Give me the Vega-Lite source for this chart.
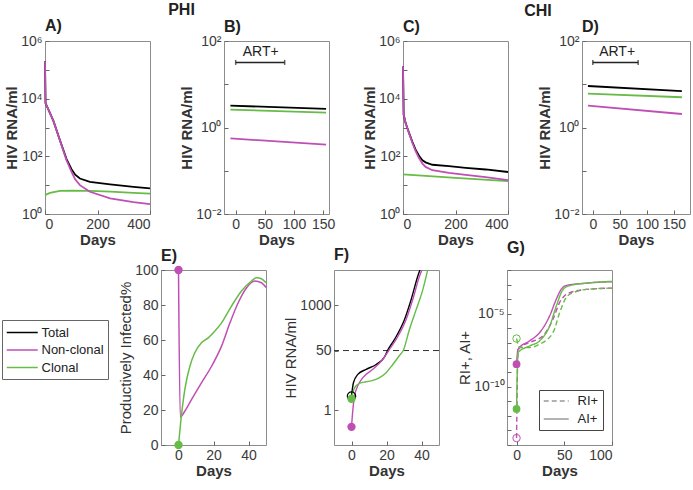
{
  "$schema": "https://vega.github.io/schema/vega-lite/v6.json",
  "background": "white",
  "padding": {"left": 1, "top": 1, "right": 0, "bottom": 0},
  "config": {
    "font": "Liberation Sans",
    "view": {"stroke": "#8c8c8c", "strokeWidth": 1},
    "axis": {"domain": false, "grid": false, "tickSize": -4, "tickColor": "#666", "labelFont": "Liberation Sans", "labelFontSize": 14, "labelColor": "#3a3a3a", "labelPadding": 7, "labelOverlap": false, "labelBound": false, "titleFont": "Liberation Sans", "titleFontSize": 15, "titleFontWeight": "bold", "titleColor": "#333", "titlePadding": 1},
    "title": {"anchor": "start", "frame": "group", "fontSize": 16, "fontWeight": "bold", "font": "Liberation Sans", "color": "#222", "offset": 7}
  },
  "datasets": {
    "A": [
      {"day": 0, "v": 200000, "s": "Total"}, {"day": 2, "v": 7000, "s": "Total"}, {"day": 32, "v": 1700, "s": "Total"}, {"day": 57, "v": 360, "s": "Total"}, {"day": 82, "v": 80, "s": "Total"}, {"day": 101, "v": 36, "s": "Total"}, {"day": 115, "v": 23, "s": "Total"}, {"day": 133, "v": 17, "s": "Total"}, {"day": 171, "v": 13, "s": "Total"}, {"day": 248, "v": 10.7, "s": "Total"}, {"day": 337, "v": 8.7, "s": "Total"}, {"day": 400, "v": 7.7, "s": "Total"},
      {"day": 0, "v": 4.5, "s": "Clonal"}, {"day": 19, "v": 5.4, "s": "Clonal"}, {"day": 57, "v": 6.3, "s": "Clonal"}, {"day": 100, "v": 6.4, "s": "Clonal"}, {"day": 171, "v": 6.3, "s": "Clonal"}, {"day": 250, "v": 6.0, "s": "Clonal"}, {"day": 337, "v": 5.4, "s": "Clonal"}, {"day": 400, "v": 5.1, "s": "Clonal"},
      {"day": 0, "v": 200000, "s": "Non-clonal"}, {"day": 2, "v": 7000, "s": "Non-clonal"}, {"day": 32, "v": 1700, "s": "Non-clonal"}, {"day": 57, "v": 355, "s": "Non-clonal"}, {"day": 82, "v": 73, "s": "Non-clonal"}, {"day": 101, "v": 29, "s": "Non-clonal"}, {"day": 115, "v": 16, "s": "Non-clonal"}, {"day": 133, "v": 10, "s": "Non-clonal"}, {"day": 171, "v": 5.9, "s": "Non-clonal"}, {"day": 248, "v": 3.5, "s": "Non-clonal"}, {"day": 337, "v": 2.6, "s": "Non-clonal"}, {"day": 400, "v": 2.2, "s": "Non-clonal"}
    ],
    "B": [
      {"day": -9, "v": 3.2, "s": "Total"}, {"day": 155, "v": 2.7, "s": "Total"},
      {"day": -9, "v": 2.6, "s": "Clonal"}, {"day": 155, "v": 2.2, "s": "Clonal"},
      {"day": -9, "v": 0.56, "s": "Non-clonal"}, {"day": 155, "v": 0.4, "s": "Non-clonal"}
    ],
    "C": [
      {"day": 0, "v": 130000, "s": "Total"}, {"day": 2.5, "v": 2820, "s": "Total"}, {"day": 10, "v": 1420, "s": "Total"}, {"day": 23, "v": 650, "s": "Total"}, {"day": 36, "v": 310, "s": "Total"}, {"day": 48, "v": 170, "s": "Total"}, {"day": 61, "v": 105, "s": "Total"}, {"day": 74, "v": 73, "s": "Total"}, {"day": 86, "v": 62, "s": "Total"}, {"day": 112, "v": 51, "s": "Total"}, {"day": 175, "v": 45.6, "s": "Total"}, {"day": 239, "v": 40, "s": "Total"}, {"day": 315, "v": 35, "s": "Total"}, {"day": 400, "v": 28.6, "s": "Total"},
      {"day": 0, "v": 23.5, "s": "Clonal"}, {"day": 200, "v": 18, "s": "Clonal"}, {"day": 400, "v": 13.7, "s": "Clonal"},
      {"day": 0, "v": 130000, "s": "Non-clonal"}, {"day": 2.5, "v": 2800, "s": "Non-clonal"}, {"day": 10, "v": 1400, "s": "Non-clonal"}, {"day": 23, "v": 630, "s": "Non-clonal"}, {"day": 36, "v": 290, "s": "Non-clonal"}, {"day": 48, "v": 150, "s": "Non-clonal"}, {"day": 61, "v": 87, "s": "Non-clonal"}, {"day": 74, "v": 56, "s": "Non-clonal"}, {"day": 86, "v": 43, "s": "Non-clonal"}, {"day": 112, "v": 33, "s": "Non-clonal"}, {"day": 175, "v": 26.7, "s": "Non-clonal"}, {"day": 239, "v": 22.7, "s": "Non-clonal"}, {"day": 315, "v": 19, "s": "Non-clonal"}, {"day": 400, "v": 14.9, "s": "Non-clonal"}
    ],
    "D": [
      {"day": -9, "v": 9.1, "s": "Total"}, {"day": 165, "v": 6.9, "s": "Total"},
      {"day": -9, "v": 6.1, "s": "Clonal"}, {"day": 165, "v": 5.0, "s": "Clonal"},
      {"day": -9, "v": 3.2, "s": "Non-clonal"}, {"day": 165, "v": 2.05, "s": "Non-clonal"}
    ],
    "ART": [{"start": 0, "end": 84, "level": 32}],
    "E": [
      {"day": 0, "v": 100, "s": "Non-clonal"}, {"day": 1, "v": 16, "s": "Non-clonal"}, {"day": 3.6, "v": 19.3, "s": "Non-clonal"}, {"day": 7.4, "v": 25.9, "s": "Non-clonal"}, {"day": 13.1, "v": 35.5, "s": "Non-clonal"}, {"day": 18.9, "v": 45, "s": "Non-clonal"}, {"day": 24.6, "v": 56.5, "s": "Non-clonal"}, {"day": 29.4, "v": 69.8, "s": "Non-clonal"}, {"day": 34.1, "v": 81.3, "s": "Non-clonal"}, {"day": 38.9, "v": 89.9, "s": "Non-clonal"}, {"day": 43.6, "v": 93.7, "s": "Non-clonal"}, {"day": 47.4, "v": 92.7, "s": "Non-clonal"}, {"day": 50, "v": 90, "s": "Non-clonal"},
      {"day": 0, "v": 0, "s": "Clonal"}, {"day": 1.4, "v": 14.5, "s": "Clonal"}, {"day": 3.6, "v": 31.7, "s": "Clonal"}, {"day": 6.5, "v": 45, "s": "Clonal"}, {"day": 9.3, "v": 52.7, "s": "Clonal"}, {"day": 13.1, "v": 58.4, "s": "Clonal"}, {"day": 17, "v": 61.2, "s": "Clonal"}, {"day": 20.8, "v": 65.1, "s": "Clonal"}, {"day": 24.6, "v": 69.8, "s": "Clonal"}, {"day": 30.3, "v": 79.4, "s": "Clonal"}, {"day": 36, "v": 88, "s": "Clonal"}, {"day": 41.7, "v": 93.7, "s": "Clonal"}, {"day": 44.6, "v": 95.6, "s": "Clonal"}, {"day": 47.4, "v": 95, "s": "Clonal"}, {"day": 50, "v": 92.7, "s": "Clonal"}
    ],
    "Ep": [{"day": 0, "v": 100, "s": "Non-clonal"}, {"day": 0, "v": 0, "s": "Clonal"}],
    "F": [
      {"day": 0, "v": 2.5, "s": "Total"}, {"day": 1.1, "v": 6, "s": "Total"}, {"day": 3.6, "v": 10.4, "s": "Total"}, {"day": 8.4, "v": 14.5, "s": "Total"}, {"day": 14.1, "v": 20, "s": "Total"}, {"day": 18.9, "v": 33, "s": "Total"}, {"day": 20.8, "v": 52, "s": "Total"}, {"day": 24.6, "v": 104, "s": "Total"}, {"day": 30.3, "v": 387, "s": "Total"}, {"day": 34.1, "v": 1440, "s": "Total"}, {"day": 37.9, "v": 6700, "s": "Total"}, {"day": 39.2, "v": 10400, "s": "Total"},
      {"day": 0, "v": 0.33, "s": "Non-clonal"}, {"day": 0.8, "v": 1.04, "s": "Non-clonal"}, {"day": 1.7, "v": 2.5, "s": "Non-clonal"}, {"day": 3.6, "v": 4.9, "s": "Non-clonal"}, {"day": 6.5, "v": 8.4, "s": "Non-clonal"}, {"day": 12.2, "v": 14.5, "s": "Non-clonal"}, {"day": 17.9, "v": 28, "s": "Non-clonal"}, {"day": 21.7, "v": 54, "s": "Non-clonal"}, {"day": 25.5, "v": 104, "s": "Non-clonal"}, {"day": 31.2, "v": 387, "s": "Non-clonal"}, {"day": 35, "v": 1440, "s": "Non-clonal"}, {"day": 38.9, "v": 6700, "s": "Non-clonal"}, {"day": 40.4, "v": 10400, "s": "Non-clonal"},
      {"day": 0, "v": 2.1, "s": "Clonal"}, {"day": 1.7, "v": 4.3, "s": "Clonal"}, {"day": 4.6, "v": 5.8, "s": "Clonal"}, {"day": 8.4, "v": 6.4, "s": "Clonal"}, {"day": 12.2, "v": 7, "s": "Clonal"}, {"day": 16, "v": 8.4, "s": "Clonal"}, {"day": 19.8, "v": 11.6, "s": "Clonal"}, {"day": 23.6, "v": 20, "s": "Clonal"}, {"day": 27.4, "v": 36, "s": "Clonal"}, {"day": 29.7, "v": 52, "s": "Clonal"}, {"day": 33.1, "v": 200, "s": "Clonal"}, {"day": 37, "v": 750, "s": "Clonal"}, {"day": 40.8, "v": 2800, "s": "Clonal"}, {"day": 43.6, "v": 10400, "s": "Clonal"}
    ],
    "Fp": [{"day": 0, "v": 0.33, "s": "Non-clonal"}, {"day": 0, "v": 2.1, "s": "Clonal"}],
    "Fo": [{"day": 0, "v": 2.5, "s": "Total"}],
    "G": [
      {"day": 0, "v": 3e-14, "s": "Non-clonal", "t": "RI+"}, {"day": 1.6, "v": 3e-8, "s": "Non-clonal", "t": "RI+"}, {"day": 3.3, "v": 4.9e-8, "s": "Non-clonal", "t": "RI+"}, {"day": 13.8, "v": 1.07e-7, "s": "Non-clonal", "t": "RI+"}, {"day": 27.8, "v": 3.1e-7, "s": "Non-clonal", "t": "RI+"}, {"day": 38.3, "v": 4.4e-6, "s": "Non-clonal", "t": "RI+"}, {"day": 45.3, "v": 6.2e-5, "s": "Non-clonal", "t": "RI+"}, {"day": 50.6, "v": 1.78e-4, "s": "Non-clonal", "t": "RI+"}, {"day": 55.8, "v": 2.75e-4, "s": "Non-clonal", "t": "RI+"}, {"day": 73.3, "v": 4.7e-4, "s": "Non-clonal", "t": "RI+"}, {"day": 100, "v": 5.75e-4, "s": "Non-clonal", "t": "RI+"},
      {"day": 0, "v": 3.5e-9, "s": "Non-clonal", "t": "AI+"}, {"day": 1.6, "v": 3.7e-8, "s": "Non-clonal", "t": "AI+"}, {"day": 13.8, "v": 1.4e-7, "s": "Non-clonal", "t": "AI+"}, {"day": 24.3, "v": 5.2e-7, "s": "Non-clonal", "t": "AI+"}, {"day": 34.8, "v": 7.4e-6, "s": "Non-clonal", "t": "AI+"}, {"day": 41.8, "v": 1.05e-4, "s": "Non-clonal", "t": "AI+"}, {"day": 47.1, "v": 5.1e-4, "s": "Non-clonal", "t": "AI+"}, {"day": 52.3, "v": 8.7e-4, "s": "Non-clonal", "t": "AI+"}, {"day": 73.3, "v": 1.26e-3, "s": "Non-clonal", "t": "AI+"}, {"day": 100, "v": 1.58e-3, "s": "Non-clonal", "t": "AI+"},
      {"day": 0, "v": 2e-7, "s": "Clonal", "t": "RI+"}, {"day": 3.3, "v": 4.9e-8, "s": "Clonal", "t": "RI+"}, {"day": 13.8, "v": 4.9e-8, "s": "Clonal", "t": "RI+"}, {"day": 24.3, "v": 8.3e-8, "s": "Clonal", "t": "RI+"}, {"day": 38.3, "v": 5.2e-7, "s": "Clonal", "t": "RI+"}, {"day": 45.3, "v": 1.26e-5, "s": "Clonal", "t": "RI+"}, {"day": 52.3, "v": 1.38e-4, "s": "Clonal", "t": "RI+"}, {"day": 59.3, "v": 2.75e-4, "s": "Clonal", "t": "RI+"}, {"day": 73.3, "v": 4.7e-4, "s": "Clonal", "t": "RI+"}, {"day": 100, "v": 5.75e-4, "s": "Clonal", "t": "RI+"},
      {"day": 0, "v": 3e-12, "s": "Clonal", "t": "AI+"}, {"day": 1.6, "v": 2.2e-8, "s": "Clonal", "t": "AI+"}, {"day": 13.8, "v": 6.3e-8, "s": "Clonal", "t": "AI+"}, {"day": 24.3, "v": 1.4e-7, "s": "Clonal", "t": "AI+"}, {"day": 34.8, "v": 1.5e-6, "s": "Clonal", "t": "AI+"}, {"day": 41.8, "v": 3.6e-5, "s": "Clonal", "t": "AI+"}, {"day": 48.1, "v": 4e-4, "s": "Clonal", "t": "AI+"}, {"day": 54.1, "v": 7.9e-4, "s": "Clonal", "t": "AI+"}, {"day": 73.3, "v": 1.26e-3, "s": "Clonal", "t": "AI+"}, {"day": 100, "v": 1.66e-3, "s": "Clonal", "t": "AI+"}
    ],
    "Gp": [{"day": 0, "v": 3.5e-9, "s": "Non-clonal"}, {"day": 0, "v": 3e-12, "s": "Clonal"}],
    "Go": [{"day": 0, "v": 2e-7, "s": "Clonal"}, {"day": 0, "v": 3e-14, "s": "Non-clonal"}]
  },
  "resolve": {"scale": {"color": "independent", "strokeDash": "independent"}},
  "spacing": -9,
  "vconcat": [
    {
      "bounds": "flush",
      "spacing": 74,
      "resolve": {"scale": {"color": "independent"}},
      "hconcat": [
        {
          "width": 105, "height": 173,
          "title": {"text": "A)", "offset": -32},
          "layer": [
            {"data": {"name": "A"}, "mark": {"type": "line", "strokeWidth": 1.8},
             "encoding": {
               "x": {"field": "day", "type": "quantitative", "scale": {"domain": [0, 400]}, "axis": {"values": [0, 200, 400], "title": "Days", "labelOverlap": false}},
               "y": {"field": "v", "type": "quantitative", "scale": {"type": "log", "domain": [1, 1000000]}, "axis": {"values": [1, 10, 100, 1000, 10000, 100000, 1000000], "labelOverlap": false, "labelExpr": "datum.value == 1 ? '10⁰' : datum.value == 100 ? '10²' : datum.value == 10000 ? '10⁴' : datum.value == 1000000 ? '10⁶' : ''", "title": "HIV RNA/ml"}},
               "color": {"field": "s", "type": "nominal", "scale": {"domain": ["Total", "Non-clonal", "Clonal"], "range": ["#000000", "#BF4FB4", "#66BC47"]}, "legend": null}
             }},
            {"data": {"values": [{}]}, "mark": {"type": "text", "fontSize": 16, "fontWeight": "bold", "color": "#222"},
             "encoding": {"x": {"datum": 520}, "y": {"datum": 12000000}, "text": {"value": "PHI"}}}
          ]
        },
        {
          "width": 105, "height": 173,
          "title": {"text": "B)", "offset": -1},
          "layer": [
            {"data": {"name": "B"}, "mark": {"type": "line", "strokeWidth": 1.8},
             "encoding": {
               "x": {"field": "day", "type": "quantitative", "scale": {"domain": [-9, 155]}, "axis": {"values": [0, 50, 100, 150], "title": "Days", "labelOverlap": false}},
               "y": {"field": "v", "type": "quantitative", "scale": {"type": "log", "domain": [0.01, 100]}, "axis": {"values": [0.01, 0.1, 1, 10, 100], "labelOverlap": false, "labelExpr": "datum.value == 0.01 ? '10⁻²' : datum.value == 1 ? '10⁰' : datum.value == 100 ? '10²' : ''", "title": "HIV RNA/ml"}},
               "color": {"field": "s", "type": "nominal", "scale": {"domain": ["Total", "Non-clonal", "Clonal"], "range": ["#000000", "#BF4FB4", "#66BC47"]}, "legend": null}
             }},
            {"data": {"name": "ART"}, "mark": {"type": "errorbar", "ticks": true, "color": "#222", "thickness": 1.5},
             "encoding": {"x": {"field": "start", "type": "quantitative", "axis": {"values": [0, 50, 100, 150], "title": "Days", "labelOverlap": false}}, "x2": {"field": "end"}, "y": {"field": "level", "type": "quantitative", "axis": {"values": [0.01, 0.1, 1, 10, 100], "labelOverlap": false, "labelExpr": "datum.value == 0.01 ? '10⁻²' : datum.value == 1 ? '10⁰' : datum.value == 100 ? '10²' : ''", "title": "HIV RNA/ml"}}}},
            {"data": {"values": [{}]}, "mark": {"type": "text", "fontSize": 14, "color": "#222"},
             "encoding": {"x": {"datum": 43, "axis": {"values": [0, 50, 100, 150], "title": "Days", "labelOverlap": false}}, "y": {"datum": 57, "axis": {"values": [0.01, 0.1, 1, 10, 100], "labelOverlap": false, "labelExpr": "datum.value == 0.01 ? '10⁻²' : datum.value == 1 ? '10⁰' : datum.value == 100 ? '10²' : ''", "title": "HIV RNA/ml"}}, "text": {"value": "ART+"}}}
          ]
        },
        {
          "width": 105, "height": 173,
          "title": {"text": "C)", "offset": -32},
          "layer": [
            {"data": {"name": "C"}, "mark": {"type": "line", "strokeWidth": 1.8},
             "encoding": {
               "x": {"field": "day", "type": "quantitative", "scale": {"domain": [0, 400]}, "axis": {"values": [0, 200, 400], "title": "Days", "labelOverlap": false}},
               "y": {"field": "v", "type": "quantitative", "scale": {"type": "log", "domain": [1, 1000000]}, "axis": {"values": [1, 10, 100, 1000, 10000, 100000, 1000000], "labelOverlap": false, "labelExpr": "datum.value == 1 ? '10⁰' : datum.value == 100 ? '10²' : datum.value == 10000 ? '10⁴' : datum.value == 1000000 ? '10⁶' : ''", "title": "HIV RNA/ml"}},
               "color": {"field": "s", "type": "nominal", "scale": {"domain": ["Total", "Non-clonal", "Clonal"], "range": ["#000000", "#BF4FB4", "#66BC47"]}, "legend": null}
             }},
            {"data": {"values": [{}]}, "mark": {"type": "text", "fontSize": 16, "fontWeight": "bold", "color": "#222"},
             "encoding": {"x": {"datum": 514}, "y": {"datum": 11000000}, "text": {"value": "CHI"}}}
          ]
        },
        {
          "width": 108, "height": 173,
          "title": {"text": "D)", "offset": -1},
          "layer": [
            {"data": {"name": "D"}, "mark": {"type": "line", "strokeWidth": 1.8},
             "encoding": {
               "x": {"field": "day", "type": "quantitative", "scale": {"domain": [-9, 165]}, "axis": {"values": [0, 50, 100, 150], "title": "Days", "labelOverlap": false}},
               "y": {"field": "v", "type": "quantitative", "scale": {"type": "log", "domain": [0.01, 100]}, "axis": {"values": [0.01, 0.1, 1, 10, 100], "labelOverlap": false, "labelExpr": "datum.value == 0.01 ? '10⁻²' : datum.value == 1 ? '10⁰' : datum.value == 100 ? '10²' : ''", "title": "HIV RNA/ml"}},
               "color": {"field": "s", "type": "nominal", "scale": {"domain": ["Total", "Non-clonal", "Clonal"], "range": ["#000000", "#BF4FB4", "#66BC47"]}, "legend": null}
             }},
            {"data": {"name": "ART"}, "mark": {"type": "errorbar", "ticks": true, "color": "#222", "thickness": 1.5},
             "encoding": {"x": {"field": "start", "type": "quantitative", "axis": {"values": [0, 50, 100, 150], "title": "Days", "labelOverlap": false}}, "x2": {"field": "end"}, "y": {"field": "level", "type": "quantitative", "axis": {"values": [0.01, 0.1, 1, 10, 100], "labelOverlap": false, "labelExpr": "datum.value == 0.01 ? '10⁻²' : datum.value == 1 ? '10⁰' : datum.value == 100 ? '10²' : ''", "title": "HIV RNA/ml"}}}},
            {"data": {"values": [{}]}, "mark": {"type": "text", "fontSize": 14, "color": "#222"},
             "encoding": {"x": {"datum": 45, "axis": {"values": [0, 50, 100, 150], "title": "Days", "labelOverlap": false}}, "y": {"datum": 57, "axis": {"values": [0.01, 0.1, 1, 10, 100], "labelOverlap": false, "labelExpr": "datum.value == 0.01 ? '10⁻²' : datum.value == 1 ? '10⁰' : datum.value == 100 ? '10²' : ''", "title": "HIV RNA/ml"}}, "text": {"value": "ART+"}}}
          ]
        }
      ]
    },
    {
      "bounds": "flush",
      "spacing": 68,
      "resolve": {"scale": {"color": "independent", "strokeDash": "independent"}},
      "hconcat": [
        {
          "width": 48, "height": 175,
          "view": {"stroke": null},
          "data": {"values": []},
          "mark": {"type": "line"},
          "encoding": {
            "x": {"field": "day", "type": "quantitative", "axis": null, "scale": {"domain": [0, 1]}},
            "y": {"field": "v", "type": "quantitative", "axis": null, "scale": {"domain": [0, 1]}},
            "color": {"field": "s", "type": "nominal", "scale": {"domain": ["Total", "Non-clonal", "Clonal"], "range": ["#000000", "#BF4FB4", "#66BC47"]},
              "legend": {"orient": "none", "legendX": -43, "legendY": 50, "title": null, "symbolType": "M-1,0H3", "symbolSize": 240, "symbolStrokeWidth": 1.5, "symbolOpacity": 1, "labelFontSize": 13, "labelFont": "Liberation Sans", "labelColor": "#222", "fillColor": "white", "strokeColor": "#666", "padding": 4, "rowPadding": 1.5, "labelOffset": 18.5}}
          }
        },
        {
          "width": 105, "height": 175,
          "title": {"text": "E)", "offset": -1},
          "layer": [
            {"data": {"name": "E"}, "mark": {"type": "line", "strokeWidth": 1.5, "interpolate": "monotone"},
             "encoding": {
               "x": {"field": "day", "type": "quantitative", "scale": {"domain": [-10, 50]}, "axis": {"values": [0, 20, 40], "title": "Days", "labelOverlap": false}},
               "y": {"field": "v", "type": "quantitative", "scale": {"domain": [0, 100]}, "axis": {"values": [0, 20, 40, 60, 80, 100], "labelOverlap": false, "title": "Productively Infected%", "titleFontWeight": "normal"}},
               "color": {"field": "s", "type": "nominal", "scale": {"domain": ["Total", "Non-clonal", "Clonal"], "range": ["#000000", "#BF4FB4", "#66BC47"]}, "legend": null}
             }},
            {"data": {"name": "Ep"}, "mark": {"type": "point", "filled": true, "size": 70, "opacity": 1},
             "encoding": {"x": {"field": "day", "type": "quantitative", "axis": {"values": [0, 20, 40], "title": "Days", "labelOverlap": false}}, "y": {"field": "v", "type": "quantitative", "axis": {"values": [0, 20, 40, 60, 80, 100], "labelOverlap": false, "title": "Productively Infected%", "titleFontWeight": "normal"}}, "color": {"field": "s", "type": "nominal", "legend": null}}}
          ]
        },
        {
          "width": 105, "height": 175,
          "title": {"text": "F)"},
          "layer": [
            {"data": {"values": [{}]}, "mark": {"type": "rule", "strokeDash": [6, 4], "color": "#333", "strokeWidth": 1},
             "encoding": {"y": {"datum": 50}}},
            {"data": {"name": "F"}, "mark": {"type": "line", "strokeWidth": 1.4, "interpolate": "monotone", "clip": true},
             "encoding": {
               "x": {"field": "day", "type": "quantitative", "scale": {"domain": [-10, 50]}, "axis": {"values": [0, 20, 40], "title": "Days", "labelOverlap": false}},
               "y": {"field": "v", "type": "quantitative", "scale": {"type": "log", "domain": [0.1, 10000]}, "axis": {"values": [1, 50, 1000], "labelOverlap": false, "format": "d", "title": "HIV RNA/ml", "titleFontWeight": "normal"}},
               "color": {"field": "s", "type": "nominal", "scale": {"domain": ["Total", "Non-clonal", "Clonal"], "range": ["#000000", "#BF4FB4", "#66BC47"]}, "legend": null}
             }},
            {"data": {"name": "Fo"}, "mark": {"type": "point", "filled": false, "size": 70, "strokeWidth": 1.2, "opacity": 1},
             "encoding": {"x": {"field": "day", "type": "quantitative"}, "y": {"field": "v", "type": "quantitative"}, "color": {"field": "s", "type": "nominal"}}},
            {"data": {"name": "Fp"}, "mark": {"type": "point", "filled": true, "size": 70, "opacity": 1},
             "encoding": {"x": {"field": "day", "type": "quantitative"}, "y": {"field": "v", "type": "quantitative"}, "color": {"field": "s", "type": "nominal"}}}
          ]
        },
        {
          "width": 105, "height": 175,
          "title": {"text": "G)"},
          "layer": [
            {"data": {"name": "G"}, "mark": {"type": "line", "strokeWidth": 1.4, "interpolate": "monotone", "clip": true},
             "encoding": {
               "x": {"field": "day", "type": "quantitative", "scale": {"domain": [-10, 100]}, "axis": {"values": [0, 50, 100], "title": "Days", "labelOverlap": false}},
               "y": {"field": "v", "type": "quantitative", "scale": {"type": "log", "domain": [1e-14, 0.01]}, "axis": {"values": [1e-14, 1e-13, 1e-12, 1e-11, 1e-10, 1e-9, 1e-8, 1e-7, 1e-6, 1e-5, 1e-4, 1e-3, 1e-2], "labelOverlap": false, "labelExpr": "round(log(datum.value)/LN10) == -5 ? '10⁻⁵' : round(log(datum.value)/LN10) == -10 ? '10⁻¹⁰' : ''", "title": "RI+, AI+", "titleFontWeight": "normal"}},
               "color": {"field": "s", "type": "nominal", "scale": {"domain": ["Total", "Non-clonal", "Clonal"], "range": ["#000000", "#BF4FB4", "#66BC47"]}, "legend": null},
               "strokeDash": {"field": "t", "type": "nominal", "scale": {"domain": ["RI+", "AI+"], "range": [[5, 3], [1, 0]]},
                 "legend": {"orient": "none", "legendX": 32, "legendY": 120, "title": null, "symbolType": "M-1,0H3", "symbolSize": 156, "symbolStrokeColor": "#666", "symbolStrokeWidth": 1.2, "labelFontSize": 13, "labelFont": "Liberation Sans", "labelColor": "#222", "fillColor": "white", "strokeColor": "#444", "padding": 4, "rowPadding": 4, "labelOffset": 20.5}}
             }},
            {"data": {"name": "Go"}, "mark": {"type": "point", "filled": false, "size": 55, "strokeWidth": 1, "opacity": 1},
             "encoding": {"x": {"field": "day", "type": "quantitative"}, "y": {"field": "v", "type": "quantitative"}, "color": {"field": "s", "type": "nominal"}}},
            {"data": {"name": "Gp"}, "mark": {"type": "point", "filled": true, "size": 60, "opacity": 1},
             "encoding": {"x": {"field": "day", "type": "quantitative"}, "y": {"field": "v", "type": "quantitative"}, "color": {"field": "s", "type": "nominal"}}}
          ]
        }
      ]
    }
  ]
}
